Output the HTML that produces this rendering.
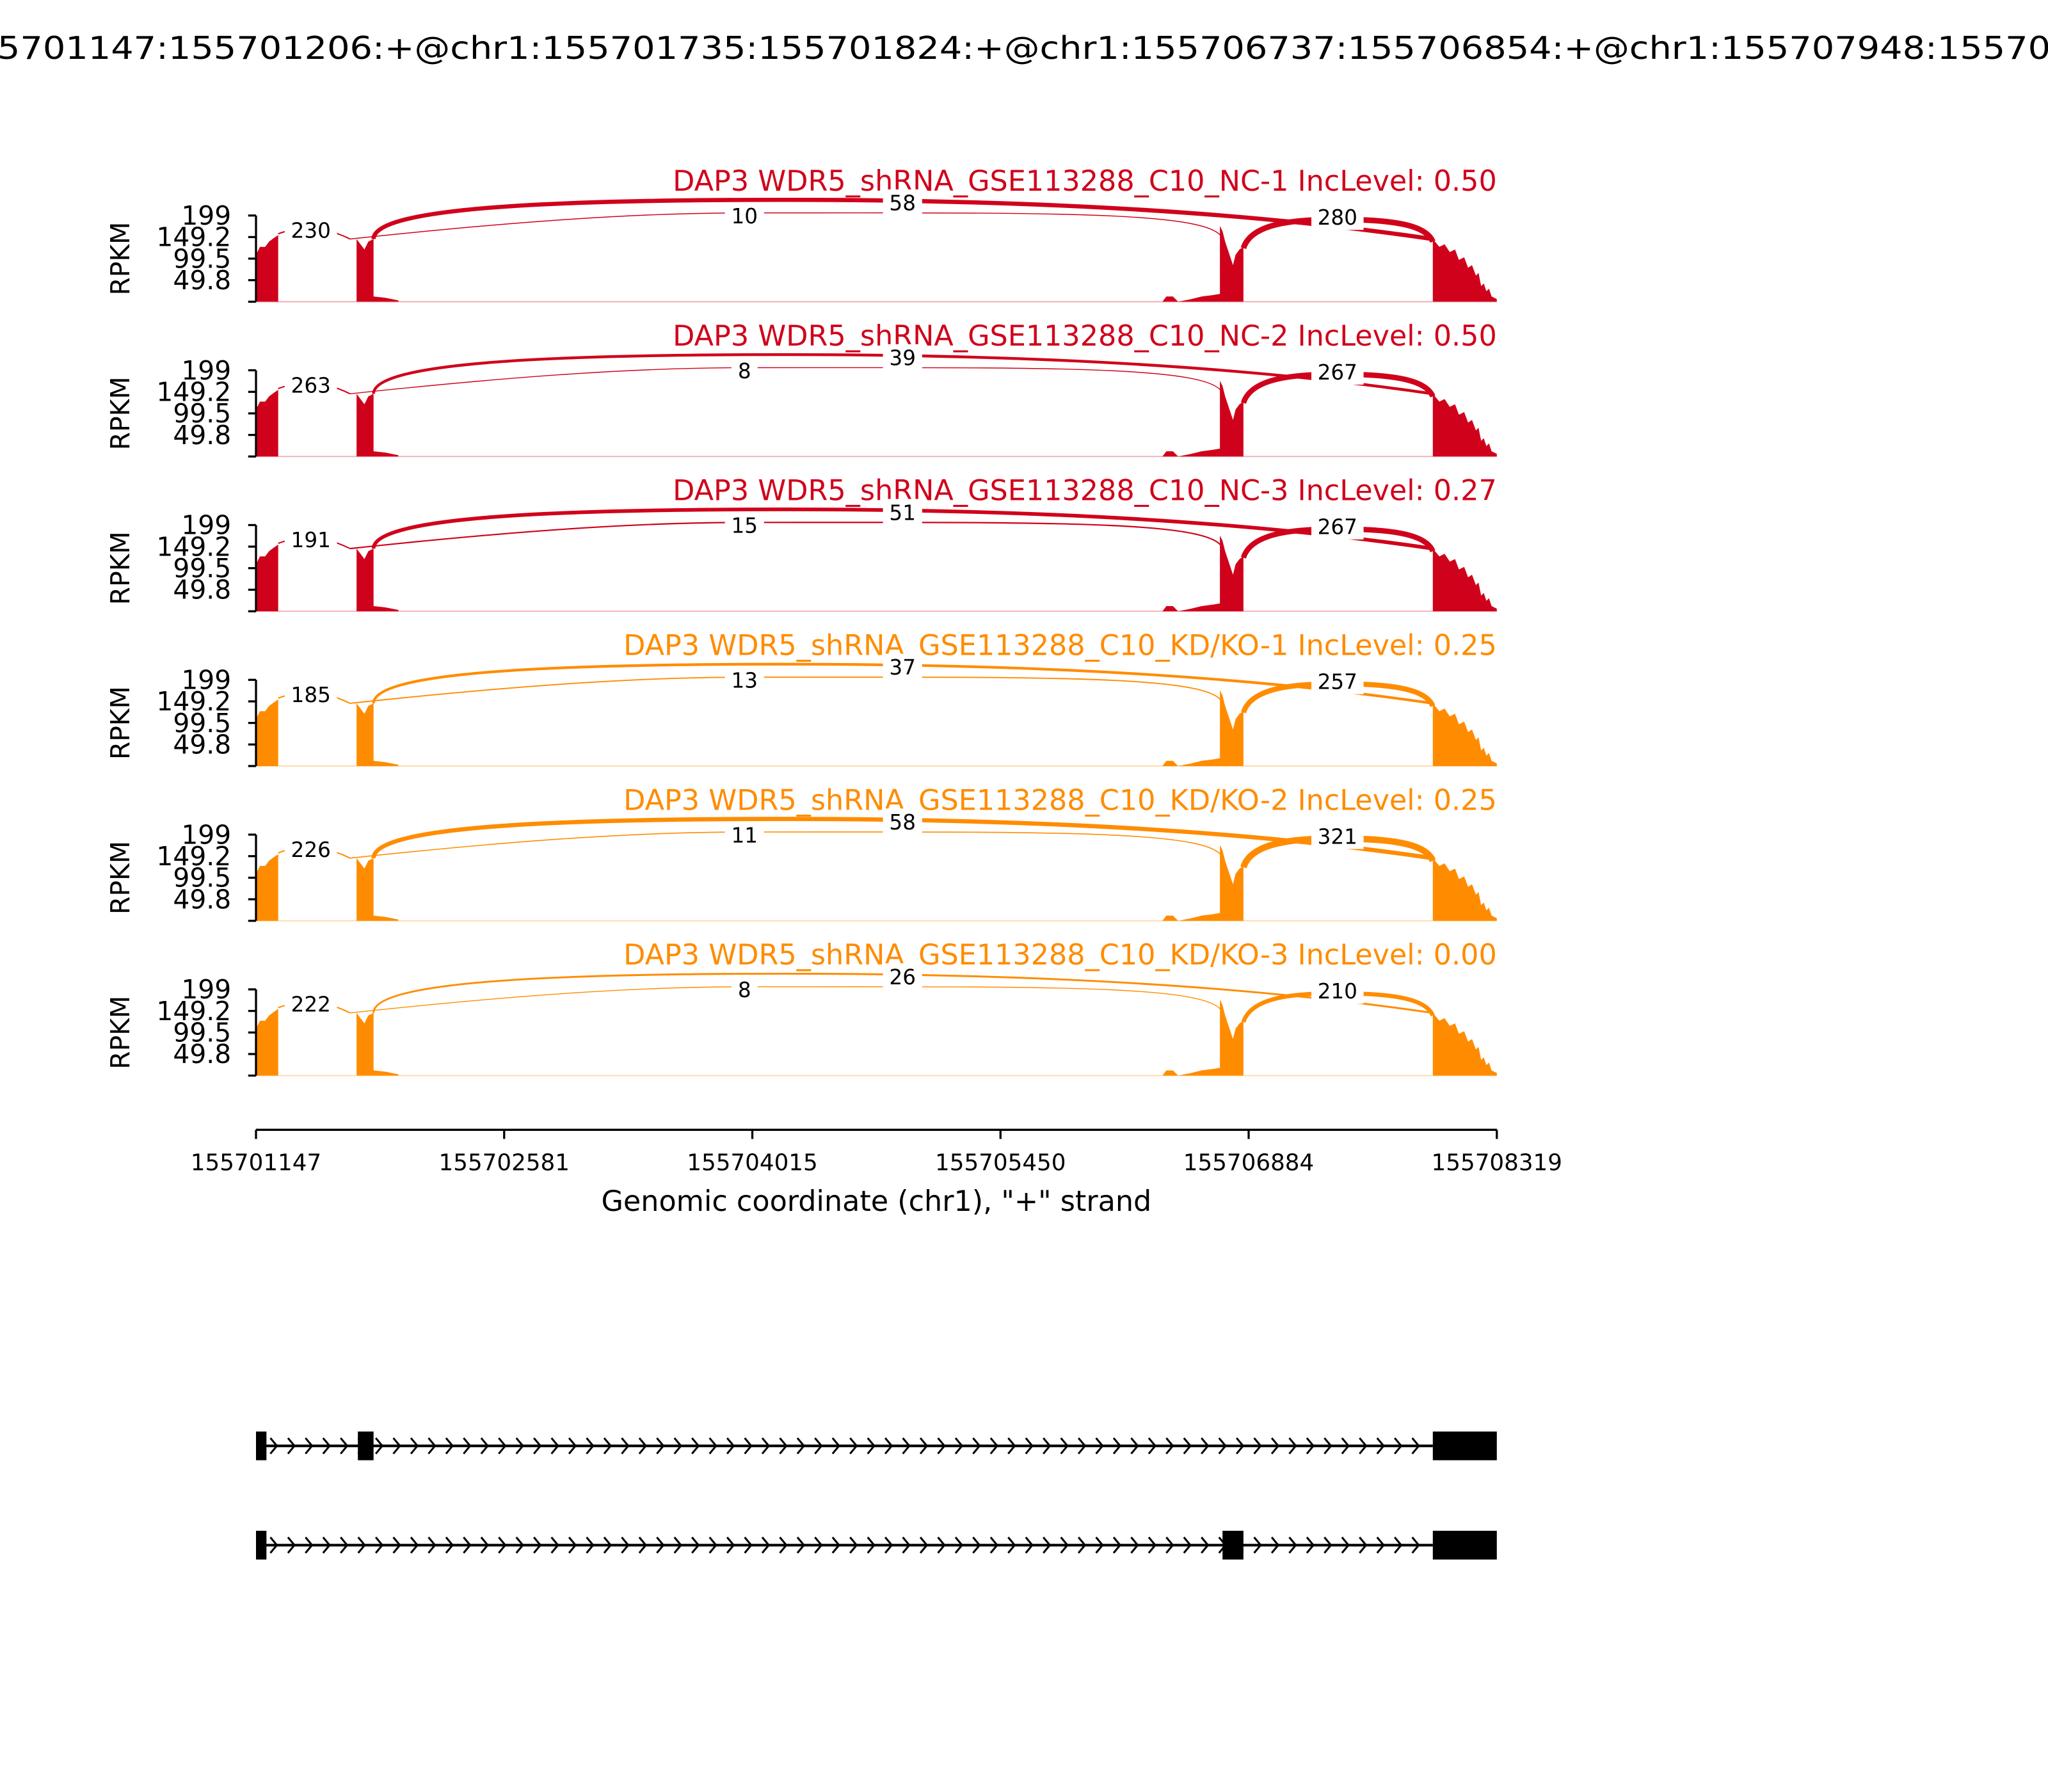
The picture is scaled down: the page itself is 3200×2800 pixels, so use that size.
<!DOCTYPE html>
<html><head><meta charset="utf-8"><style>
html,body{margin:0;padding:0;background:#fff;}
svg{display:block;}
text{font-family:"DejaVu Sans","Liberation Sans",sans-serif;}
</style></head><body>
<svg id="s" width="3200" height="2800" viewBox="0 0 1568 1372" xmlns="http://www.w3.org/2000/svg">
<rect width="1568" height="1372" fill="#fff"/>
<text x="-2" y="45" font-size="24" textLength="1572" lengthAdjust="spacingAndGlyphs">5701147:155701206:+@chr1:155701735:155701824:+@chr1:155706737:155706854:+@chr1:155707948:15570</text>
<g id="panels"></g>
<g stroke="#000" stroke-width="1.6">
<line x1="196" y1="865" x2="1146" y2="865"/>
<line x1="196" y1="865" x2="196" y2="872"/><line x1="386" y1="865" x2="386" y2="872"/>
<line x1="576" y1="865" x2="576" y2="872"/><line x1="766" y1="865" x2="766" y2="872"/>
<line x1="956" y1="865" x2="956" y2="872"/><line x1="1146" y1="865" x2="1146" y2="872"/>
</g>
<g font-size="17.5" text-anchor="middle">
<text x="196" y="896">155701147</text><text x="386" y="896">155702581</text>
<text x="576" y="896">155704015</text><text x="766" y="896">155705450</text>
<text x="956" y="896">155706884</text><text x="1146" y="896">155708319</text>
</g>
<text x="671" y="927" font-size="21.8" text-anchor="middle">Genomic coordinate (chr1), "+" strand</text>
<g id="genes"></g>
</svg>
<script>
var P=document.getElementById('panels'),h='';
var data=[[165,'#d0021b','NC-1','0.50',230,10,58,280],[283.5,'#d0021b','NC-2','0.50',263,8,39,267],[402,'#d0021b','NC-3','0.27',191,15,51,267],
[520.5,'#ff8c00','KD/KO-1','0.25',185,13,37,257],[639,'#ff8c00','KD/KO-2','0.25',226,11,58,321],[757.5,'#ff8c00','KD/KO-3','0.00',222,8,26,210]];
data.forEach(function(d){
var T=d[0],c=d[1];
h+='<g transform="translate(0,'+T+')">';
h+='<text x="1146" y="-19" font-size="21.8" fill="'+c+'" text-anchor="end">DAP3 WDR5_shRNA_GSE113288_C10_'+d[2]+' IncLevel: '+d[3]+'</text>';
h+='<line x1="196" y1="66" x2="1146" y2="66" stroke="'+c+'" stroke-opacity="0.3" stroke-width="1"/>';
h+='<path fill="'+c+'" d="M196,66 L196,30 L199,24 L203,24 L206,20 L210,17 L213,15 L213,66 Z"/>';
h+='<path fill="'+c+'" d="M273,66 L273,18 L276,22 L279,26 L282,20 L286,18 L286,62 L295,63 L305,65 L305,66 Z"/>';
h+='<path fill="'+c+'" d="M890,66 L893,62 L898,62 L902,66 L912,64 L920,62 L928,61 L934,60 L934,8 L936,12 L938,20 L940,26 L944,38 L946,30 L949,26 L952,24 L952,66 Z"/>';
h+='<path fill="'+c+'" d="M1097,66 L1097,18 L1102,24 L1106,22 L1110,28 L1114,26 L1117,34 L1121,32 L1124,40 L1127,38 L1130,46 L1132,44 L1134,54 L1136,52 L1138,58 L1140,56 L1142,62 L1146,64 L1146,66 Z"/>';
var wA=Math.max(1,d[6]/18),wB=Math.max(1.5,d[7]/65),wC=Math.max(0.7,d[5]/14);
h+='<path fill="none" stroke="'+c+'" stroke-width="'+wA+'" d="M286,18 C286,-6 420,-12 600,-12 C800,-12 960,-2 1097,18"/>';
h+='<path fill="none" stroke="'+c+'" stroke-width="'+wB+'" d="M952,25 C958,6 990,3 1024,3 C1070,3 1092,8 1097,20"/>';
h+='<path fill="none" stroke="'+c+'" stroke-width="'+wC+'" d="M268,18 C380,6 480,-2 570,-2 C800,-2 930,-4 936,18"/>';
h+='<path fill="none" stroke="'+c+'" stroke-width="1" d="M213,14 Q240,4 268,18"/>';
function lab(x,y,t){var w=String(t).length*10+10;h+='<rect x="'+(x-w/2)+'" y="'+(y-10)+'" width="'+w+'" height="20" fill="#fff"/><text x="'+x+'" y="'+(y+6)+'" font-size="16" text-anchor="middle">'+t+'</text>';}
lab(238,11,d[4]);lab(570,0,d[5]);lab(691,-10,d[6]);lab(1024,1,d[7]);
h+='<g stroke="#000" stroke-width="1.6"><line x1="196" y1="0" x2="196" y2="66"/>';
[0,16.5,33,49.5,66].forEach(function(y){h+='<line x1="190" y1="'+y+'" x2="196" y2="'+y+'"/>';});
h+='</g><g font-size="20" text-anchor="end"><text x="177" y="7">199</text><text x="177" y="23.5">149.2</text><text x="177" y="40">99.5</text><text x="177" y="56.5">49.8</text></g>';
h+='<text transform="translate(99,33) rotate(-90)" font-size="20" text-anchor="middle">RPKM</text>';
h+='</g>';
});
P.innerHTML=h;
var G=document.getElementById('genes'),g='';
function track(y,mid){
g+='<line x1="203" y1="'+y+'" x2="1097" y2="'+y+'" stroke="#000" stroke-width="2"/>';
for(var x=210;x<1097;x+=13.45){g+='<polyline points="'+(x-3)+','+(y-6)+' '+(x+2)+','+y+' '+(x-3)+','+(y+6)+'" fill="none" stroke="#000" stroke-width="1.5"/>';}
g+='<rect x="196" y="'+(y-11)+'" width="8" height="22" fill="#000"/>';
g+='<rect x="'+mid[0]+'" y="'+(y-11)+'" width="'+mid[1]+'" height="22" fill="#000"/>';
g+='<rect x="1097" y="'+(y-11)+'" width="49" height="22" fill="#000"/>';
}
track(1107,[274,12]);track(1183,[936,16]);
G.innerHTML=g;
</script>
</body></html>
